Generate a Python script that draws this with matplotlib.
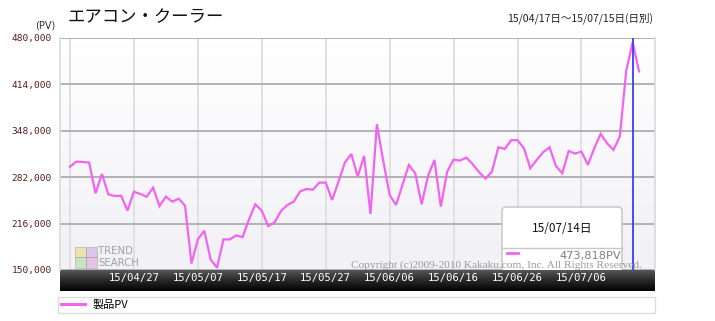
import matplotlib
matplotlib.use("Agg")
import matplotlib.pyplot as plt
import numpy as np
from matplotlib.colors import LinearSegmentedColormap
from matplotlib.patches import FancyBboxPatch, Rectangle
from matplotlib.lines import Line2D
from matplotlib.transforms import Affine2D

# ---------------- data ----------------
title_text = "エアコン・クーラー"
range_text = "15/04/17日～15/07/15日(日別)"
y_unit_text = "(PV)"
series_name = "製品PV"
copyright_text = "Copyright (c)2009-2010 Kakaku.com, Inc. All Rights Reserved."

# daily page views, 15/04/17 .. 15/07/15
pv_values = [
    297000, 304200, 303700, 302800, 259100, 286600, 257650, 255300, 255700, 234400,
    261400, 258100, 254300, 267150, 241000, 254300, 247200, 251500, 241500, 159300,
    193500, 205900, 165000, 153150, 193500, 193500, 199200, 196800, 222000, 243400,
    234400, 212500, 217700, 233900, 242500, 247200, 261900, 265250, 264300, 274300,
    274300, 249600, 275700, 302800, 315100, 282800, 312300, 229600, 357400, 305150,
    256700, 242450, 270950, 299450, 287600, 243400, 283800, 306600, 240100, 289950,
    307050, 305600, 309900, 300400, 289000, 280000, 289950, 324600, 322250, 334600,
    334600, 323200, 294700, 306600, 317500, 324600, 298000, 287600, 319400, 315600,
    318450, 299450, 323200, 343600, 330300, 320800, 339800, 433400, 473818, 432450,
]
grid_days = [0, 10, 20, 30, 40, 50, 60, 70, 80]
x_tick_labels = ["", "15/04/27", "15/05/07", "15/05/17", "15/05/27",
                 "15/06/06", "15/06/16", "15/06/26", "15/07/06"]
y_ticks = [150000, 216000, 282000, 348000, 414000, 480000]
tooltip_day = 88
tooltip_date = "15/07/14日"

# ---------------- figure ----------------
W, H = 715, 321
fig = plt.figure(figsize=(W / 100, H / 100), dpi=100)
fig.patch.set_facecolor("white")
pix = Affine2D().scale(1.0 / W, -1.0 / H).translate(0, 1) + fig.transFigure

JP = ["Noto Sans CJK JP", "DejaVu Sans"]
LINE_COLOR = "#f064f0"

ax = fig.add_axes([60 / W, 1 - 270 / H, 595 / W, 232 / H])
band = fig.add_axes([60 / W, 1 - 291 / H, 595 / W, 21 / H])
band.set_zorder(0)
ax.set_zorder(1)

# dark date band
band_cmap = LinearSegmentedColormap.from_list("band", ["#5c5c5c", "#2a2a2a", "#020202"])
band.imshow(np.linspace(0, 1, 64).reshape(-1, 1), aspect="auto", cmap=band_cmap,
            extent=[0, 1, 0, 1], origin="upper")
band.set_xlim(0, 1)
band.set_ylim(0, 1)
band.axis("off")

days = np.arange(len(pv_values))
xmin, xmax = -1.56, 91.5
ymin, ymax = y_ticks[0], y_ticks[-1]

# plot background gradient
bg_cmap = LinearSegmentedColormap.from_list("bg", ["#ffffff", "#f1f1f6"])
ax.imshow(np.linspace(0, 1, 64).reshape(-1, 1), aspect="auto", cmap=bg_cmap,
          extent=[xmin, xmax, ymin, ymax], origin="upper", zorder=0)

# grid
for d in grid_days:
    ax.axvline(d, color="#e0e0e0", lw=1.4, zorder=1)
for yv in y_ticks:
    ax.axhline(yv, color="#b2b2b2", lw=1.4, zorder=1)

# TREND SEARCH logo (watermark)
logo_cols = [("#e8d870", 75, 247, 11, 10), ("#c9a6e0", 86, 247, 11, 10),
             ("#a6d89a", 75, 257, 11, 11), ("#e0a0d8", 86, 257, 11, 11)]
for c, x0, y0, w0, h0 in logo_cols:
    ax.add_patch(Rectangle((x0, y0 + h0), w0, -h0, transform=pix, facecolor=c,
                           edgecolor="#9a9a9a", lw=0.6, alpha=0.55, zorder=2))
ax.text(98, 251, "TREND", transform=pix, fontsize=7.3, color="#a0a0a0",
        va="center", ha="left", family="DejaVu Sans", zorder=2)
ax.text(98, 263, "SEARCH", transform=pix, fontsize=7.3, color="#a0a0a0",
        va="center", ha="left", family="DejaVu Sans", zorder=2)

# series
ax.plot(days, pv_values, color=LINE_COLOR, lw=1.6, zorder=4,
        solid_joinstyle="miter", label=series_name)

# tooltip
ax.add_patch(FancyBboxPatch((502, 207), 120, 70, transform=pix,
                            boxstyle="round,pad=0,rounding_size=4",
                            facecolor="white", edgecolor="#c4c4c4", lw=1.0, zorder=5))
ax.add_line(Line2D([502, 622], [248, 248], transform=pix, color="#c8c8c8", lw=1.0, zorder=6))
ax.text(562, 229, tooltip_date, transform=pix, fontsize=8.5, family=JP,
        color="#111111", ha="center", va="center", zorder=6)
ax.add_line(Line2D([507, 518], [253, 253], transform=pix, color=LINE_COLOR, lw=2.0, zorder=6))
ax.text(621, 256, f"{pv_values[tooltip_day]:,}PV", transform=pix, fontsize=8.2,
        family="DejaVu Sans", color="#808080", ha="right", va="center", zorder=6)

# highlight line
ax.axvline(tooltip_day, color="#3c3cff", lw=1.3, zorder=7)

# copyright watermark
ax.text(642, 265, copyright_text, transform=pix, fontsize=8.2, family="Liberation Serif",
        color="#909090", alpha=0.9, ha="right", va="center", zorder=8)

ax.set_xlim(xmin, xmax)
ax.set_ylim(ymin, ymax)
ax.set_xticks(grid_days)
ax.set_xticklabels(x_tick_labels)
ax.set_yticks(y_ticks)
ax.set_yticklabels([f"{v:,}" for v in y_ticks])
ax.tick_params(axis="x", length=0, pad=2.2, labelsize=7.6, labelcolor="white")
ax.tick_params(axis="y", length=0, pad=5.8, labelsize=6.8, labelcolor="#5a1c1c")
for lab in ax.get_xticklabels() + ax.get_yticklabels():
    lab.set_family("DejaVu Sans Mono")
for side in ["top", "bottom"]:
    ax.spines[side].set_visible(False)
for side in ["left", "right"]:
    ax.spines[side].set_color("#dadada")
    ax.spines[side].set_linewidth(1.2)

# legend box
leg = ax.legend(loc="upper left", bbox_to_anchor=(58 / W, 1 - 318 / H, 597 / W, 21 / H),
                bbox_transform=fig.transFigure, mode="expand", frameon=True, fancybox=False,
                framealpha=1.0, prop={"family": JP, "size": 8}, handlelength=2.2,
                handletextpad=0.7, borderpad=0.25, borderaxespad=0)
leg.get_frame().set_edgecolor("#dcdcdc")
leg.get_frame().set_linewidth(1.0)
for h in leg.get_lines():
    h.set_linewidth(2.2)

# header texts
fig.text(68 / W, 1 - 17 / H, title_text, fontsize=12.5, family=JP, color="#111111",
         ha="left", va="center")
fig.text(45 / W, 1 - 25 / H, y_unit_text, fontsize=7, family="DejaVu Sans", color="#333333",
         ha="center", va="center")
fig.text(653 / W, 1 - 18 / H, range_text, fontsize=7.6, family=JP, color="#222222",
         ha="right", va="center")

fig.savefig("out.png", dpi=100)
